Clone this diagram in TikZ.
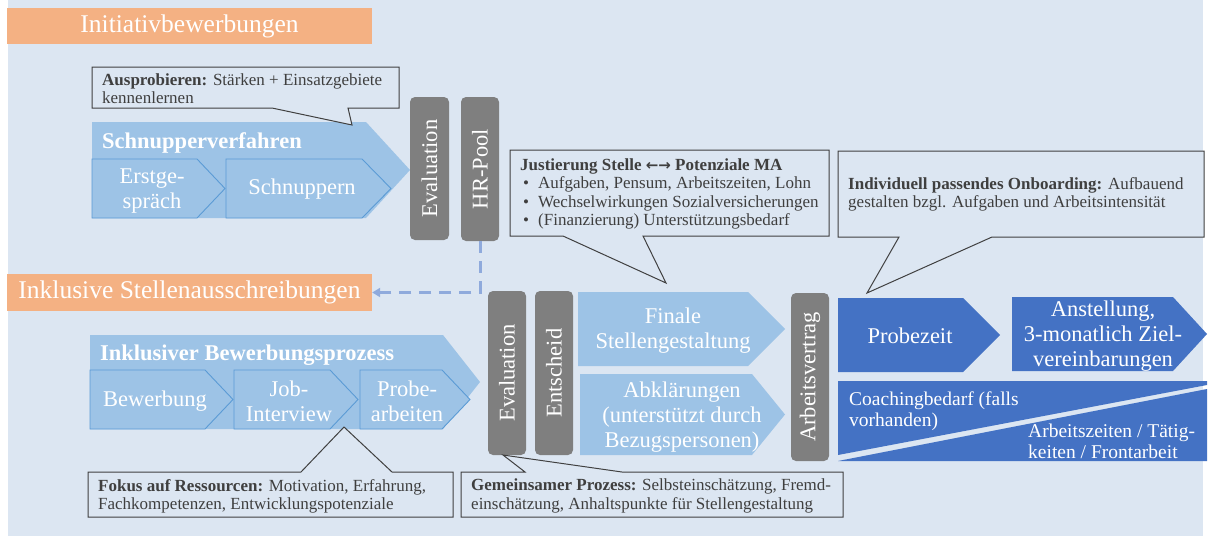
\documentclass[tikz,border=0pt]{standalone}
\usepackage{fontspec}
\setmainfont{Liberation Serif}
\newfontfamily\arrowfont{DejaVu Sans}
\usetikzlibrary{arrows.meta}
\definecolor{bgc}{HTML}{DCE6F2}
\definecolor{orng}{HTML}{F4B183}
\definecolor{lblue}{HTML}{9DC3E6}
\definecolor{lline}{HTML}{5B9BD5}
\definecolor{dblue}{HTML}{4472C4}
\definecolor{grayc}{HTML}{7F7F7F}
\definecolor{calline}{HTML}{404040}
\definecolor{dashc}{HTML}{8FAADC}
\definecolor{txtc}{HTML}{3F3F3F}
\tikzset{
  bigchev/.style={fill=lblue},
  subchev/.style={fill=lblue, draw=lline, line width=0.9pt},
  darkchev/.style={fill=dblue},
  callout/.style={fill=bgc, draw=calline, line width=1pt, line join=miter},
  ctext/.style={text=txtc, font=\fontsize{17}{18.3}\selectfont, align=left, anchor=west, inner sep=0pt},
  chevtext/.style={text=white, font=\fontsize{22.5}{25}\selectfont, align=center, inner sep=0pt},
  chevtitle/.style={text=white, font=\fontsize{22.5}{25}\selectfont\bfseries, anchor=west, inner sep=0pt},
  smalltext/.style={text=white, font=\fontsize{19.5}{21.5}\selectfont, align=left, anchor=west, inner sep=0pt},
  graylabel/.style={fill=grayc, rounded corners=5pt, text=white, rotate=90, font=\fontsize{22.5}{25}\selectfont, inner sep=0pt},
  orangebar/.style={fill=orng, text=white, font=\fontsize{25.5}{28}\selectfont, inner sep=0pt, minimum width=365pt},
  dashconn/.style={draw=dashc, line width=3pt, dash pattern=on 12pt off 8pt, -{Triangle[length=8pt,width=9pt]}}
}
\begin{document}
\begin{tikzpicture}[x=1pt,y=-1pt]
\useasboundingbox (0,0) rectangle (1208,536);
\fill[white] (0,0) rectangle (1208,536);
\fill[bgc] (8,0) rectangle (1203,536);

% orange bars
\node[orangebar, minimum height=36pt] (initiativ) at (189.5,26) {Initiativbewerbungen};
\node[orangebar, minimum height=37pt] (inklstellen) at (189.5,292.5) {Inklusive Stellenausschreibungen};

% Schnupperverfahren
\fill[bigchev] (92,122) -- (366,122) -- (410,170) -- (366,218) -- (92,218) -- cycle;
\filldraw[subchev] (92,159) -- (197,159) -- (225,188.5) -- (197,218) -- (92,218) -- cycle;
\filldraw[subchev] (226,159) -- (362,159) -- (391,188.5) -- (362,218) -- (226,218) -- cycle;
\node[chevtitle] (schnvf) at (102,143) {Schnupperverfahren};
\node[chevtext] (erst) at (152,191) {Erstge-\\spräch};
\node[chevtext] (schn) at (302,189) {Schnuppern};

% Inklusiver Bewerbungsprozess
\fill[bigchev] (90,335) -- (443,335) -- (480,382) -- (443,429) -- (90,429) -- cycle;
\filldraw[subchev] (90,370) -- (205,370) -- (233,399.5) -- (205,429) -- (90,429) -- cycle;
\filldraw[subchev] (234,370) -- (330,370) -- (358,399.5) -- (330,429) -- (234,429) -- cycle;
\filldraw[subchev] (360,370) -- (442,370) -- (470,399.5) -- (442,429) -- (360,429) -- cycle;
\node[chevtitle] (inklbp) at (100,355) {Inklusiver Bewerbungsprozess};
\node[chevtext] (bew) at (155,401) {Bewerbung};
\node[chevtext] (job) at (289,401) {Job-\\Interview};
\node[chevtext] (probe) at (407,401) {Probe-\\arbeiten};

% gray boxes
\node[graylabel, minimum width=143pt, minimum height=39pt] (eval1) at (429.5,168.5) {Evaluation};
\node[graylabel, minimum width=144pt, minimum height=38pt] (hrpool) at (480,169) {HR-Pool};
\node[graylabel, minimum width=164pt, minimum height=38pt] (eval2) at (507,373) {Evaluation};
\node[graylabel, minimum width=164pt, minimum height=38pt] (entsch) at (554,373) {Entscheid};
\node[graylabel, minimum width=168pt, minimum height=38pt] (avertrag) at (810,377) {Arbeitsvertrag};

% dashed connector
\draw[dashconn] (hrpool.west) |- (inklstellen.east);

% middle chevrons
\fill[bigchev] (578,292) -- (748,292) -- (785,329) -- (748,366) -- (578,366) -- cycle;
\fill[bigchev] (580,374) -- (752,374) -- (785,414.5) -- (752,455) -- (580,455) -- cycle;
\node[chevtext] (finale) at (673,331) {Finale\\Stellengestaltung};
\node[chevtext] (abkl) at (682,417) {Abklärungen\\(unterstützt durch\\Bezugspersonen)};

% dark blue shapes
\fill[darkchev] (838,298) -- (963,298) -- (1000,335) -- (963,372) -- (838,372) -- cycle;
\fill[darkchev] (1012,297) -- (1173,297) -- (1207,334) -- (1173,371) -- (1012,371) -- cycle;
\fill[darkchev] (838,381) -- (1207,381) -- (1207,385) -- (838,455) -- cycle;
\fill[darkchev] (838,461) -- (1207,389) -- (1207,461) -- cycle;
\node[chevtext] (probez) at (910,336) {Probezeit};
\node[chevtext] (anst) at (1103,336) {Anstellung,\\3-monatlich Ziel-\\vereinbarungen};
\node[smalltext] (coach) at (849,411) {Coachingbedarf (falls\\vorhanden)};
\node[smalltext] (arbz) at (1028,441.5) {Arbeitszeiten / Tätig-\\keiten / Frontarbeit};

% callouts
\filldraw[callout] (92,67) -- (399,67) -- (399,108) -- (348,108) -- (352,125) -- (272,108) -- (92,108) -- cycle;
\node[ctext] (auspr) at (102,88.5) {\textbf{Ausprobieren:} Stärken + Einsatzgebiete\\kennenlernen};

\filldraw[callout] (510,150) -- (829,150) -- (829,236) -- (643,236) -- (666,283) -- (563,236) -- (510,236) -- cycle;
\node[ctext] (justier) at (520,194) {\textbf{Justierung Stelle {\arrowfont\fontsize{15}{18}\selectfont ←→} Potenziale MA}\\
\makebox[18pt][l]{\hspace{3pt}•}Aufgaben, Pensum, Arbeitszeiten, Lohn\\
\makebox[18pt][l]{\hspace{3pt}•}Wechselwirkungen Sozialversicherungen\\
\makebox[18pt][l]{\hspace{3pt}•}(Finanzierung) Unterstützungsbedarf};

\filldraw[callout] (838,151) -- (1204,151) -- (1204,237) -- (992,237) -- (867,293) -- (899,237) -- (838,237) -- cycle;
\node[ctext] (onboard) at (848,194) {\textbf{Individuell passendes Onboarding:} Aufbauend\\gestalten bzgl. Aufgaben und Arbeitsintensität};

\filldraw[callout] (88,472) -- (301,472) -- (344,427) -- (392,472) -- (453,472) -- (453,517) -- (88,517) -- cycle;
\node[ctext] (fokus) at (98,496) {\textbf{Fokus auf  Ressourcen:} Motivation, Erfahrung,\\Fachkompetenzen, Entwicklungspotenziale};

\filldraw[callout] (461,472) -- (525,472) -- (503,455) -- (622,472) -- (843,472) -- (843,517) -- (461,517) -- cycle;
\node[ctext] (gemein) at (471,496) {\textbf{Gemeinsamer Prozess:} Selbsteinschätzung, Fremd-\\einschätzung, Anhaltspunkte für Stellengestaltung};
\end{tikzpicture}
\end{document}
